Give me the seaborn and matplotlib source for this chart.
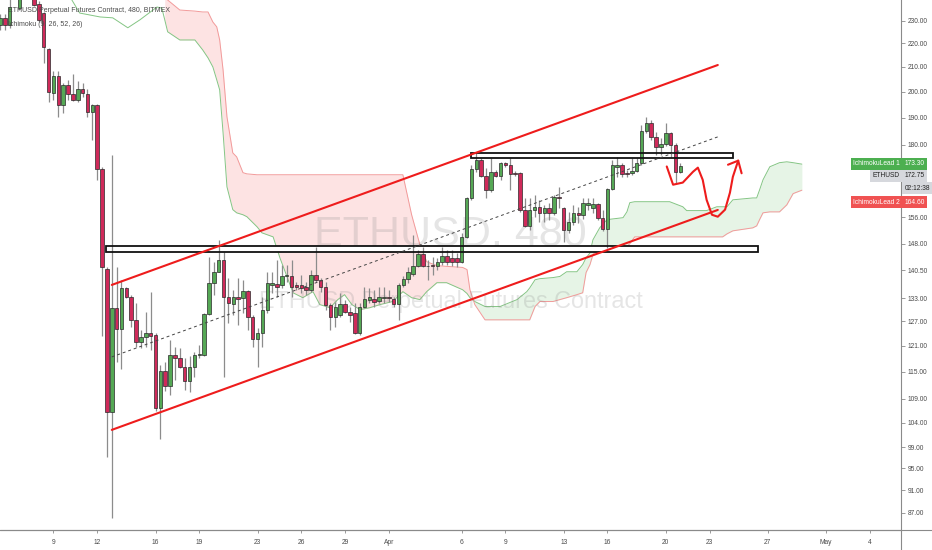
import numpy as np
import pandas as pd
import matplotlib
matplotlib.use("Agg")
import matplotlib.pyplot as plt
from matplotlib import font_manager
from matplotlib.ticker import FixedLocator, FuncFormatter, NullLocator
from matplotlib.patches import Rectangle
from matplotlib.lines import Line2D
from matplotlib.transforms import blended_transform_factory
import seaborn as sns

# ---------------- data ----------------
first_candle = "2020-03-05 08:00"
ref_time = "2020-03-12 00:00"
bar_hours = 8

opens = [228.2, 231.4, 228.2, 242.0, 235.9, 243.0, 248.0, 243.0, 237.8, 233.6,
         217.6, 199.5, 206.4, 194.9, 202.7, 199.2, 196.8, 201.1, 199.2, 192.2,
         194.9, 171.7, 141.0, 106.1, 130.5, 125.2, 135.7, 133.4, 127.4, 122.0,
         123.2, 124.2, 123.7, 107.1, 115.2, 111.7, 118.9, 118.2, 116.1, 112.8,
         116.1, 118.9, 118.9, 129.0, 137.1, 140.1, 143.5, 133.4, 131.5, 133.4,
         133.1, 134.9, 128.2, 122.7, 124.2, 130.0, 136.6, 136.8, 136.6, 138.8,
         138.8, 136.6, 136.6, 136.0, 135.2, 139.3, 137.9, 136.0, 131.3, 128.2,
         128.7, 131.5, 129.5, 129.2, 124.2, 130.8, 132.6, 132.8, 132.3, 133.1,
         133.4, 132.8, 131.5, 136.6, 138.2, 139.6, 141.6, 145.2, 141.8, 142.1,
         141.6, 142.9, 144.6, 144.0, 144.0, 142.9, 150.1, 162.1, 171.7, 174.8,
         169.4, 164.7, 170.7, 169.4, 173.8, 173.1, 170.4, 170.4, 158.4, 153.4,
         158.4, 159.3, 157.4, 159.0, 157.4, 162.5, 159.0, 152.2, 154.7, 157.4,
         156.8, 159.9, 159.0, 160.2, 155.9, 152.5, 165.0, 172.4, 173.1, 170.4,
         170.4, 171.0, 173.8, 185.1, 188.1, 182.9, 179.3, 180.4, 184.4, 180.0,
         170.7]
highs = [233.2, 233.2, 240.5, 248.0, 245.0, 252.0, 253.0, 246.0, 239.0, 234.1,
         218.0, 208.4, 208.4, 203.5, 204.7, 207.2, 204.3, 203.5, 201.1, 195.3,
         195.3, 172.4, 141.3, 176.5, 141.3, 137.9, 136.0, 133.9, 131.8, 124.9,
         129.5, 134.7, 124.2, 116.6, 117.1, 122.5, 120.8, 120.4, 118.2, 118.5,
         119.6, 121.3, 129.2, 144.3, 142.9, 149.2, 145.7, 138.5, 135.2, 138.5,
         137.9, 135.2, 128.7, 125.4, 133.4, 139.9, 139.9, 143.5, 142.1, 142.1,
         143.5, 137.4, 139.3, 137.4, 140.7, 147.2, 138.5, 137.4, 131.8, 132.1,
         134.4, 132.6, 130.8, 131.8, 131.8, 136.0, 135.7, 135.2, 136.0, 136.0,
         135.2, 133.4, 137.1, 138.8, 141.3, 150.7, 146.3, 147.2, 143.5, 144.3,
         144.0, 147.2, 146.3, 146.3, 145.5, 151.3, 162.5, 173.1, 177.2, 175.5,
         172.1, 175.5, 171.4, 174.1, 174.1, 175.5, 171.0, 170.7, 162.1, 162.1,
         163.1, 161.5, 159.9, 160.6, 163.1, 165.7, 159.3, 157.7, 159.9, 159.3,
         162.1, 162.1, 162.1, 160.6, 158.4, 165.4, 174.8, 175.8, 173.8, 171.4,
         175.5, 175.5, 187.3, 190.3, 189.2, 184.7, 182.5, 188.1, 184.7, 180.7,
         173.8]
lows = [226.0, 226.0, 226.9, 240.5, 235.0, 241.0, 241.0, 236.8, 229.5, 211.7,
        196.0, 196.8, 190.3, 191.8, 196.8, 196.4, 196.0, 198.0, 190.3, 181.8,
        168.0, 123.4, 97.2, 86.2, 117.1, 115.5, 133.1, 125.7, 120.8, 120.6,
        120.8, 120.1, 106.3, 100.6, 110.6, 109.9, 113.2, 115.9, 111.0, 110.4,
        113.7, 118.2, 118.7, 128.7, 133.9, 139.9, 113.9, 126.7, 128.7, 126.2,
        129.2, 124.9, 120.8, 116.1, 120.8, 129.2, 134.4, 133.4, 135.7, 137.4,
        133.4, 135.2, 134.4, 133.9, 134.7, 137.4, 134.7, 130.0, 124.9, 125.7,
        128.0, 129.2, 126.9, 124.0, 123.7, 130.5, 131.8, 130.8, 131.8, 131.8,
        132.1, 130.8, 127.4, 136.0, 137.1, 138.8, 141.3, 141.3, 137.9, 139.3,
        140.7, 142.1, 142.1, 141.6, 141.3, 142.6, 149.8, 161.5, 170.7, 169.0,
        162.1, 164.0, 169.0, 168.0, 172.4, 164.7, 169.4, 157.7, 153.1, 152.2,
        156.2, 154.7, 154.7, 155.3, 156.8, 159.0, 148.6, 151.3, 153.7, 154.4,
        155.6, 158.4, 157.4, 155.3, 151.9, 146.9, 164.7, 169.0, 169.0, 169.0,
        169.7, 170.7, 173.1, 184.4, 181.8, 176.5, 176.5, 179.6, 175.8, 167.1,
        170.4]
closes = [231.4, 228.2, 236.4, 246.0, 243.0, 248.0, 245.0, 237.3, 230.5, 218.3,
          199.9, 206.4, 194.9, 202.7, 199.2, 196.8, 201.1, 199.5, 192.2, 194.9,
          171.7, 141.3, 106.1, 130.5, 125.2, 135.7, 133.4, 127.4, 122.0, 123.2,
          124.2, 123.5, 107.1, 115.2, 111.7, 118.9, 118.2, 116.1, 112.8, 116.1,
          118.9, 119.2, 129.0, 137.1, 140.1, 143.5, 133.4, 131.8, 133.4, 132.8,
          134.9, 128.2, 122.7, 124.2, 130.0, 137.1, 137.0, 136.0, 139.0, 139.3,
          136.0, 136.0, 135.7, 135.2, 139.3, 137.9, 136.0, 131.3, 128.2, 130.8,
          131.5, 129.5, 128.7, 124.2, 130.8, 132.8, 133.4, 132.1, 133.4, 133.4,
          133.1, 131.5, 136.6, 138.2, 139.9, 141.6, 145.2, 141.6, 141.6, 141.6,
          142.9, 144.6, 142.9, 142.9, 142.9, 150.1, 162.1, 171.7, 174.8, 169.4,
          164.7, 170.7, 169.4, 173.8, 173.1, 170.0, 170.0, 158.4, 153.4, 158.4,
          159.3, 157.4, 159.0, 157.4, 162.5, 162.1, 152.2, 154.7, 157.4, 156.8,
          160.6, 160.6, 160.2, 155.9, 152.5, 165.0, 173.1, 173.1, 170.0, 170.0,
          171.0, 173.8, 185.1, 188.1, 182.9, 179.3, 180.4, 184.4, 180.0, 170.7,
          172.75]

# Ichimoku cloud (bars after 12 Mar 00:00; leading span 2 starts off-chart)
cloud_bar = [-5.6, -3.6, 0.6, 3.2, 6.3, 8.8, 12.3, 13.3, 13.9, 14.5, 17.0, 20.1,
             21.7, 22.8, 23.8, 24.6, 25.2, 25.9, 26.7, 27.9, 28.7, 30.0, 30.8,
             32.9, 33.9, 36.2, 37.6, 40.3, 42.3, 44.4, 45.8, 47.9, 49.5, 50.9,
             52.4, 54.1, 56.1, 58.2, 60.8, 62.9, 64.7, 66.4, 67.8, 69.9, 71.9,
             75.2, 76.1, 76.7, 77.7, 79.8, 82.9, 86.4, 88.4, 89.0, 90.1, 91.1,
             93.8, 95.2, 96.6, 98.7, 99.9, 100.6, 101.4, 102.0, 103.4, 104.9,
             108.2, 109.0, 109.6, 110.6, 117.8, 120.5, 121.3, 125.4, 127.5,
             128.7, 129.6, 130.8, 134.9, 135.7, 136.3, 137.0, 138.4, 140.4,
             141.9, 143.2, 145.0]
lead1 = [241.2, 233.6, 231.8, 231.4, 226.9, 230.5, 236.4, 235.9, 230.5, 225.1,
         221.5, 221.5, 217.2, 213.8, 210.0, 204.7, 200.7, 184.4, 165.7, 158.4,
         157.4, 156.8, 156.2, 153.1, 151.3, 150.1, 144.0, 134.4, 133.1, 134.7,
         131.3, 130.5, 132.6, 133.9, 131.3, 130.0, 130.5, 131.3, 132.1, 134.7,
         133.1, 132.6, 134.7, 137.1, 137.1, 135.2, 134.2, 133.1, 132.1, 130.8,
         130.8, 132.6, 134.7, 135.7, 137.9, 138.2, 138.5, 138.8, 140.1, 140.1,
         142.1, 144.0, 145.4, 149.2, 152.8, 155.3, 155.9, 157.7, 160.6, 160.9,
         160.9, 159.3, 158.1, 158.1, 159.3, 159.3, 159.3, 161.5, 162.1, 162.1,
         164.7, 168.0, 172.4, 173.8, 174.1, 173.8, 173.3]
lead2 = [np.nan] * 8 + [
         241.5, 239.7, 235.0, 234.5, 234.1, 234.1, 229.5, 227.3, 221.5, 208.8,
         190.3, 177.2, 175.8, 170.4, 170.0, 169.7, 169.7, 169.7, 169.7, 169.7,
         169.7, 169.7, 169.7, 169.7, 169.7, 169.7, 169.7, 169.7, 169.7, 169.7,
         169.7, 169.7, 156.8, 147.8, 142.9, 141.8, 141.6, 141.3, 140.7, 135.2,
         131.3, 127.4, 127.4, 127.4, 127.4, 127.4, 130.8, 132.1, 132.1, 132.6,
         133.1, 133.9, 134.4, 139.9, 142.1, 144.9, 147.2, 147.2, 147.2, 147.2,
         148.1, 150.1, 150.1, 150.1, 150.1, 150.1, 150.1, 150.1, 151.0, 151.9,
         152.8, 153.4, 155.3, 157.4, 157.7, 157.7, 159.9, 163.5, 164.6]

# drawings (bars after 12 Mar 00:00, price)
channel_bar = [3.0, 127.7]
channel_upper = [136.5, 210.8]
channel_lower = [102.5, 158.3]
channel_mid = [118.4, 182.9]
zone_bar = [(77.0, 130.8), (1.9, 135.9)]
zone_price = [(175.4, 177.2), (145.7, 147.5)]
path_bar = [117.2, 118.5, 120.5, 122.6, 123.6, 124.6, 125.4, 126.5, 127.7, 129.2, 130.2, 130.8, 131.9]
path_price = [172.5, 166.4, 167.1, 170.7, 172.1, 168.0, 161.5, 156.8, 156.2, 158.4, 163.8, 169.0, 174.5]
arrow_bar = [129.8, 131.9, 132.6]
arrow_price = [173.1, 174.5, 170.2]

ytick_vals = [230, 220, 210, 200, 190, 180, 156, 148, 140.5, 133, 127, 121, 115, 109, 104, 99, 95, 91, 87]
xtick_dates = ["2020-03-09", "2020-03-12", "2020-03-16", "2020-03-19", "2020-03-23",
               "2020-03-26", "2020-03-29", "2020-04-01", "2020-04-06", "2020-04-09",
               "2020-04-13", "2020-04-16", "2020-04-20", "2020-04-23", "2020-04-27",
               "2020-05-01", "2020-05-04"]
xtick_labels = ["9", "12", "16", "19", "23", "26", "29", "Apr", "6", "9", "13", "16",
                "20", "23", "27", "May", "4"]

last_price = 172.75
lead1_last = 173.30
lead2_last = 164.60
countdown = "02:12:38"

# ---------------- style ----------------
sns.set_theme(style="white")
names = {f.name for f in font_manager.fontManager.ttflist}
narrow = "Liberation Sans Narrow" in names
plt.rcParams["font.family"] = (["Liberation Sans Narrow"] if narrow else []) + ["Liberation Sans", "DejaVu Sans"]
k = 1.2 if narrow else 1.0
fs_small = 4.8 * k
fs_title = 5.0 * k
fs_wm1 = 31 * k
fs_wm2 = 16.8 * k

UP, DOWN = "#55a855", "#cf2a5a"
EDGE = "#2a2a2a"
WICK = "#8c8c8c"
AXC = "#8a8a8a"
TXT = "#4a4a4a"

fig = plt.figure(figsize=(9.32, 5.5), dpi=100)
ax = fig.add_axes([0, 20 / 550, 901 / 932, 530 / 550])
ax.set_facecolor("white")
ax.set_yscale("log")

# cloud
cb = np.array(cloud_bar)
l1 = np.array(lead1, dtype=float)
l2 = np.array(lead2, dtype=float)
v = ~np.isnan(l2)
ax.fill_between(cb[v], l1[v], l2[v], where=l2[v] >= l1[v], interpolate=True,
                color="#fde3e3", lw=0, zorder=1)
ax.fill_between(cb[v], l1[v], l2[v], where=l1[v] >= l2[v], interpolate=True,
                color="#e6f4e6", lw=0, zorder=1)
sns.lineplot(x=cb, y=l1, ax=ax, color="#84c584", lw=0.7, estimator=None, sort=False, zorder=1.5)
sns.lineplot(x=cb[v], y=l2[v], ax=ax, color="#f29a9a", lw=0.7, estimator=None, sort=False, zorder=1.5)

# watermark (above cloud fill, below candles)
ax.text(0.5, 0.557, "ETHUSD, 480", transform=ax.transAxes, ha="center", va="center",
        fontsize=fs_wm1, color="#8a8a8a", alpha=0.22, zorder=1.6)
ax.text(0.5, 0.432, "ETHUSD Perpetual Futures Contract", transform=ax.transAxes, ha="center",
        va="center", fontsize=fs_wm2, color="#8a8a8a", alpha=0.22, zorder=1.6)

# zones (white fill under candles, outline on top)
for (b0, b1), (p0, p1) in zip(zone_bar, zone_price):
    ax.add_patch(Rectangle((b0, p0), b1 - b0, p1 - p0, facecolor="white", edgecolor="none", zorder=2))
    ax.add_patch(Rectangle((b0, p0), b1 - b0, p1 - p0, fill=False, edgecolor="#111111", lw=1.3, zorder=5))

# candles
times = pd.date_range(first_candle, periods=len(opens), freq=f"{bar_hours}h")
ref = pd.Timestamp(ref_time)
xb = np.asarray((times - ref) / pd.Timedelta(hours=bar_hours), dtype=float)
o = np.array(opens); h = np.array(highs); lo = np.array(lows); c = np.array(closes)
up = c >= o
ax.vlines(xb, lo, h, color=WICK, lw=0.9, zorder=3)
ax.bar(xb, np.abs(c - o), bottom=np.minimum(o, c), width=0.72,
       color=np.where(up, UP, DOWN), edgecolor=EDGE, linewidth=0.5, zorder=3.5)

# channel
sns.lineplot(x=channel_bar, y=channel_upper, ax=ax, color="#ee1c1c", lw=1.5, zorder=5)
sns.lineplot(x=channel_bar, y=channel_lower, ax=ax, color="#ee1c1c", lw=1.5, zorder=5)
ax.plot(channel_bar, channel_mid, color="#444444", lw=0.7, ls=(0, (3, 3)), zorder=5)

# hand drawn path
ax.plot(path_bar, path_price, color="#ee1c1c", lw=1.5, solid_capstyle="round",
        solid_joinstyle="round", zorder=6)
ax.plot(arrow_bar, arrow_price, color="#ee1c1c", lw=1.5, solid_capstyle="round",
        solid_joinstyle="round", zorder=6)

# axes
ax.set_xlim(-20.0, 165.4)
ax.set_ylim(84.1, 239.7)
ax.yaxis.tick_right()
ax.yaxis.set_major_locator(FixedLocator(ytick_vals))
ax.yaxis.set_minor_locator(NullLocator())
ax.yaxis.set_major_formatter(FuncFormatter(lambda val, pos: f"{val:.2f}"))
xpos = [(pd.Timestamp(d) - ref) / pd.Timedelta(hours=bar_hours) for d in xtick_dates]
ax.set_xticks(xpos)
ax.set_xticklabels(xtick_labels)
ax.xaxis.set_minor_locator(NullLocator())
ax.tick_params(axis="y", which="major", right=True, left=False, length=3, width=0.6,
               color=AXC, labelsize=fs_small, labelcolor=TXT, pad=1.5, direction="out")
ax.tick_params(axis="x", which="major", bottom=True, length=2.5, width=0.6, color=AXC,
               labelsize=fs_small, labelcolor=TXT, pad=4, direction="out")
ax.grid(False)
for s in ["top", "left"]:
    ax.spines[s].set_visible(False)
for s in ["right", "bottom"]:
    ax.spines[s].set_color(AXC)
    ax.spines[s].set_linewidth(0.8)
fig.add_artist(Line2D([901 / 932, 901 / 932], [0, 20 / 550], transform=fig.transFigure,
                      color=AXC, lw=0.8))
fig.add_artist(Line2D([0, 1], [20 / 550, 20 / 550], transform=fig.transFigure,
                      color=AXC, lw=0.8))

# legend texts
ax.text(8 / 901, 1 - 11 / 530, "ETHUSD Perpetual Futures Contract, 480, BITMEX",
        transform=ax.transAxes, ha="left", va="center", fontsize=fs_title, color=TXT, zorder=8)
ax.text(8 / 901, 1 - 24 / 530, "Ichimoku (9, 26, 52, 26)",
        transform=ax.transAxes, ha="left", va="center", fontsize=fs_title, color=TXT, zorder=8)

# price-scale tags (stacked to avoid overlap)
tag_y = {"lead1": 173.4, "last": 169.3, "timer": 165.3, "lead2": 160.8}
tr = blended_transform_factory(ax.transAxes, ax.transData)
def tag(y, left_txt, right_txt, fc, tc):
    kw = dict(transform=tr, va="center", fontsize=fs_small, color=tc, clip_on=False, zorder=10)
    if left_txt:
        ax.text(0.9985, y, left_txt, ha="right",
                bbox=dict(boxstyle="square,pad=0.35", fc=fc, ec="none"), **kw)
    if right_txt:
        ax.text(1.004, y, right_txt, ha="left",
                bbox=dict(boxstyle="square,pad=0.35", fc=fc, ec="none"), **kw)

tag(tag_y["lead1"], "IchimokuLead 1", f"{lead1_last:.2f}", "#4caf50", "white")
tag(tag_y["last"], "ETHUSD", f"{last_price:.2f}", "#d6d8dd", "#222222")
tag(tag_y["timer"], None, countdown, "#d6d8dd", "#222222")
tag(tag_y["lead2"], "IchimokuLead 2", f"{lead2_last:.2f}", "#f05252", "white")

fig.savefig("out.png", dpi=100, facecolor="white")
